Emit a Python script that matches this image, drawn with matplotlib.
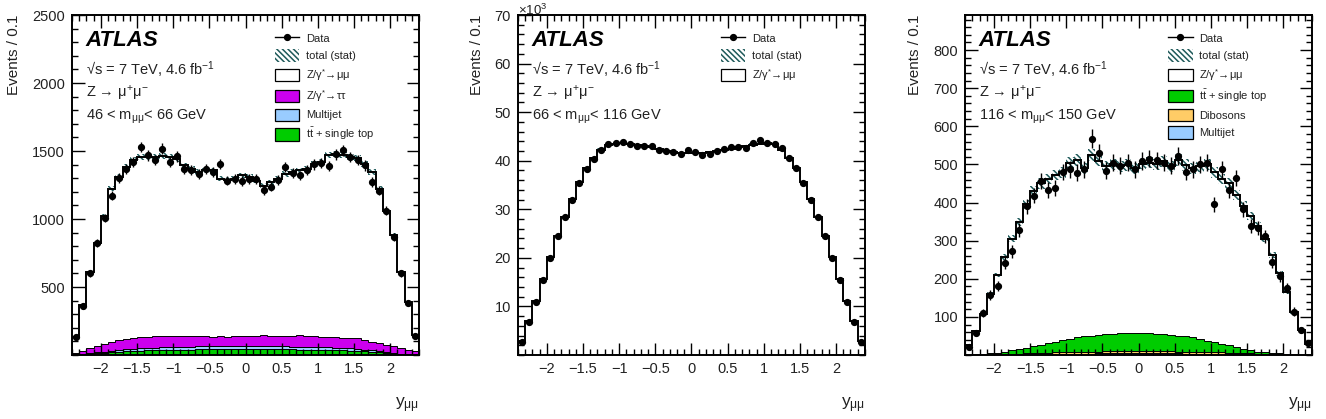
import numpy as np
import matplotlib
matplotlib.use('Agg')
import matplotlib.pyplot as plt
from matplotlib.patches import Patch
from matplotlib.lines import Line2D
from matplotlib.ticker import MultipleLocator, FixedLocator, FuncFormatter

plt.rcParams['font.family'] = ['Liberation Sans', 'DejaVu Sans']
plt.rcParams['mathtext.fontset'] = 'custom'
plt.rcParams['mathtext.rm'] = 'Liberation Sans'
plt.rcParams['mathtext.it'] = 'Liberation Sans:italic'
plt.rcParams['mathtext.bf'] = 'Liberation Sans:bold'
plt.rcParams['hatch.linewidth'] = 1.1

# binning in y_mumu
edges = np.linspace(-2.4, 2.4, 49)
centres = 0.5 * (edges[:-1] + edges[1:])

# --- 46 < m < 66 GeV ---
data_1 = [130, 360, 600, 823, 1007, 1172, 1300, 1370, 1420, 1530, 1468, 1436, 1517, 1419, 1460, 1370,
          1357, 1333, 1370, 1345, 1406, 1283, 1296, 1278, 1296, 1296, 1214, 1239, 1288, 1382, 1337, 1320,
          1362, 1401, 1411, 1387, 1475, 1505, 1456, 1436, 1394, 1271, 1209, 1061, 870, 600, 385, 140]
total_1 = [135, 368, 612, 823, 1020, 1222, 1308, 1382, 1431, 1456, 1456, 1456, 1462, 1456, 1443, 1394,
           1370, 1345, 1357, 1357, 1296, 1288, 1296, 1320, 1308, 1283, 1246, 1271, 1296, 1332, 1345, 1357,
           1370, 1406, 1419, 1468, 1475, 1468, 1456, 1451, 1406, 1345, 1222, 1061, 882, 612, 392, 147]
ttbar_1 = [3, 5, 8, 12, 16, 20, 24, 27, 30, 32, 34, 36, 37, 38, 39, 40, 40, 41, 41, 42, 42, 42, 42, 42,
           42, 42, 42, 42, 42, 41, 41, 40, 40, 39, 38, 37, 36, 34, 32, 30, 27, 24, 20, 16, 12, 8, 5, 3]
multijet_1 = [2, 3, 5, 7, 9, 11, 13, 15, 16, 17, 18, 19, 20, 20, 21, 21, 22, 22, 22, 23, 22, 22, 23, 22,
              22, 23, 22, 22, 22, 22, 21, 21, 21, 20, 20, 19, 18, 17, 16, 15, 13, 11, 9, 7, 5, 3, 2, 1]
ztautau_1 = [13, 20, 35, 47, 59, 67, 71, 74, 77, 80, 82, 82, 83, 83, 80, 81, 78, 76, 75, 71, 74, 68, 72, 76,
             77, 73, 82, 76, 77, 76, 78, 86, 79, 79, 76, 75, 76, 75, 76, 77, 72, 63, 57, 53, 47, 39, 31, 22]

# --- 66 < m < 116 GeV (in units of 10^3) ---
data_2 = [2.7, 6.9, 11.0, 15.5, 20.0, 24.5, 28.5, 32.0, 35.5, 38.2, 40.3, 42.2, 43.4, 43.6, 43.9, 43.4,
          43.1, 43.1, 43.0, 42.3, 41.9, 41.7, 41.4, 42.2, 41.7, 41.2, 41.4, 41.9, 42.5, 42.9, 42.9, 42.6,
          43.6, 44.3, 43.6, 43.4, 42.6, 40.5, 38.4, 35.5, 32.0, 28.5, 24.5, 20.0, 15.5, 11.0, 6.9, 2.7]
total_2 = [2.8, 7.0, 11.2, 15.6, 20.1, 24.4, 28.4, 32.1, 35.6, 38.4, 40.6, 42.3, 43.2, 43.5, 43.6, 43.4,
           43.2, 43.0, 42.8, 42.4, 42.1, 41.8, 41.6, 41.6, 41.6, 41.6, 41.7, 41.9, 42.2, 42.5, 42.8, 43.0,
           43.3, 43.5, 43.6, 43.4, 42.3, 40.6, 38.4, 35.6, 32.1, 28.4, 24.4, 20.1, 15.6, 11.2, 7.0, 2.8]

# --- 116 < m < 150 GeV ---
data_3 = [22, 57, 110, 158, 182, 241, 272, 329, 390, 418, 456, 432, 439, 480, 487, 478,
          487, 568, 531, 484, 504, 496, 504, 487, 509, 515, 511, 504, 496, 522, 480, 487,
          500, 504, 395, 487, 432, 465, 382, 339, 333, 311, 245, 206, 175, 114, 66, 31]
total_3 = [25, 62, 108, 160, 210, 258, 305, 350, 395, 430, 450, 462, 472, 480, 505, 512,
           490, 525, 510, 495, 500, 495, 498, 490, 502, 505, 500, 508, 495, 512, 498, 490,
           495, 500, 480, 462, 450, 420, 392, 365, 338, 305, 262, 215, 165, 112, 65, 28]
multijet_3 = [0, 0, 0, 0, 1, 1, 1, 1, 2, 2, 2, 2, 3, 3, 3, 3, 3, 3, 4, 4, 4, 4, 4, 4,
              4, 4, 4, 4, 4, 4, 3, 3, 3, 3, 3, 3, 2, 2, 2, 2, 1, 1, 1, 1, 0, 0, 0, 0]
diboson_3 = [1, 1, 1, 1, 1, 2, 2, 2, 3, 3, 3, 4, 4, 4, 5, 5, 5, 5, 5, 6, 6, 6, 6, 6,
             6, 6, 6, 6, 6, 5, 5, 5, 5, 5, 4, 4, 4, 3, 3, 3, 2, 2, 2, 1, 1, 1, 1, 1]
ttbar_3 = [0, 1, 2, 3, 4, 6, 9, 12, 14, 18, 22, 25, 28, 32, 35, 38, 41, 43, 44, 45, 46, 47, 48, 48,
           47, 48, 46, 45, 43, 42, 41, 38, 34, 30, 27, 23, 19, 15, 11, 7, 6, 4, 2, 2, 2, 1, 0, 0]

HATCH_COL = '#1f5a5a'
C_TT = '#00cc00'
C_MJ = '#99ccff'
C_TAU = '#cc00ee'
C_DB = '#ffcc66'

lab_data = 'Data'
lab_stat = 'total (stat)'
lab_zmm = 'Z/γ$^{*}$→μμ'
lab_ztt = 'Z/γ$^{*}$→ττ'
lab_mj = 'Multijet'
lab_tt = 't$\\bar{\\mathrm{t}}$ + single top'
lab_db = 'Dibosons'


def draw_panel(ax, data, total, bkgs, scale, stat_rel, mass_text, yticks, ylim):
    data = np.asarray(data, float)
    total = np.asarray(total, float)
    # stacked backgrounds
    base = np.zeros(len(total))
    for vals, col in bkgs:
        top = base + np.asarray(vals, float)
        ax.stairs(top, edges, baseline=base, fill=True, facecolor=col, edgecolor='k', lw=0.7)
        base = top
    # total MC with stat hatch
    err = total * stat_rel
    ax.stairs(total + err, edges, baseline=total - err, fill=True, facecolor='none',
              hatch='\\\\\\\\\\\\', edgecolor=HATCH_COL, lw=0)
    ax.stairs(total, edges, color='k', lw=1.4)
    # data
    yerr = np.sqrt(data * scale) / scale
    ax.errorbar(centres, data, yerr=yerr, fmt='o', color='k', ms=4.2, elinewidth=1.0, capsize=0)

    ax.set_xlim(-2.4, 2.4)
    ax.set_ylim(*ylim)
    ax.xaxis.set_major_locator(FixedLocator([-2, -1.5, -1, -0.5, 0, 0.5, 1, 1.5, 2]))
    ax.xaxis.set_minor_locator(MultipleLocator(0.1))
    ax.xaxis.set_major_formatter(FuncFormatter(lambda v, p: ('%g' % v).replace('-', '−')))
    ax.yaxis.set_major_locator(FixedLocator(yticks))
    ax.yaxis.set_minor_locator(MultipleLocator((yticks[1] - yticks[0]) / 5))
    ax.yaxis.set_major_formatter(FuncFormatter(lambda v, p: '%g' % v))
    ax.tick_params(which='both', direction='in', top=True, right=True, width=1.0,
                   labelsize=10.5, colors='k', labelcolor='#222222', pad=5)
    ax.tick_params(which='major', length=9)
    ax.tick_params(which='minor', length=4.5)
    for s in ax.spines.values():
        s.set_linewidth(1.4)

    ax.set_ylabel('Events / 0.1', loc='top', fontsize=11, color='#222222', labelpad=8)
    ax.set_xlabel('y$_{\\mathrm{μμ}}$', loc='right', fontsize=12.5, color='#222222', labelpad=14)

    ax.text(0.04, 0.926, 'ATLAS', transform=ax.transAxes, fontsize=16, fontweight='bold',
            fontstyle='italic', va='center', ha='left')
    ax.text(0.04, 0.838, '√s = 7 TeV, 4.6 fb$^{-1}$', transform=ax.transAxes, fontsize=10.5,
            va='center', ha='left', color='#222222')
    ax.text(0.04, 0.768, 'Z → μ$^{+}$μ$^{-}$', transform=ax.transAxes, fontsize=10.5,
            va='center', ha='left', color='#222222')
    ax.text(0.04, 0.70, mass_text, transform=ax.transAxes, fontsize=10.5,
            va='center', ha='left', color='#222222')


fig = plt.figure(figsize=(13.26, 4.19), dpi=100)
bottom, height, width = 0.1527, 0.8115, 0.2617
ax1 = fig.add_axes([0.0543, bottom, width, height])
ax2 = fig.add_axes([0.3906, bottom, width, height])
ax3 = fig.add_axes([0.7278, bottom, width, height])

draw_panel(ax1, data_1, total_1, [(ttbar_1, C_TT), (multijet_1, C_MJ), (ztautau_1, C_TAU)],
           1.0, 0.015, '46 < m$_{\\mathrm{μμ}}$< 66 GeV', [500, 1000, 1500, 2000, 2500], (0, 2500))
draw_panel(ax2, data_2, total_2, [], 1000.0, 0.006, '66 < m$_{\\mathrm{μμ}}$< 116 GeV',
           [10, 20, 30, 40, 50, 60, 70], (0, 70))
draw_panel(ax3, data_3, total_3, [(multijet_3, C_MJ), (diboson_3, C_DB), (ttbar_3, C_TT)],
           1.0, 0.03, '116 < m$_{\\mathrm{μμ}}$< 150 GeV', [100, 200, 300, 400, 500, 600, 700, 800],
           (0, 892))
ax2.text(0.0, 0.99, '×10$^{3}$', transform=ax2.transAxes, fontsize=9.5, va='bottom', ha='left',
         color='#222222')


def legend_handles(entries):
    h = []
    for kind, col in entries:
        if kind == 'data':
            h.append(Line2D([], [], color='k', marker='o', ms=4.2, lw=1.0))
        elif kind == 'stat':
            h.append(Patch(facecolor='none', hatch='\\\\\\\\\\\\', edgecolor=HATCH_COL, lw=0))
        else:
            h.append(Patch(facecolor=col, edgecolor='k', lw=0.9))
    return h


leg_1 = [('data', None), ('stat', None), ('fill', 'white'), ('fill', C_TAU), ('fill', C_MJ), ('fill', C_TT)]
leg_2 = [('data', None), ('stat', None), ('fill', 'white')]
leg_3 = [('data', None), ('stat', None), ('fill', 'white'), ('fill', C_TT), ('fill', C_DB), ('fill', C_MJ)]
labels_1 = [lab_data, lab_stat, lab_zmm, lab_ztt, lab_mj, lab_tt]
labels_2 = [lab_data, lab_stat, lab_zmm]
labels_3 = [lab_data, lab_stat, lab_zmm, lab_tt, lab_db, lab_mj]

for ax, ent, labs in [(ax1, leg_1, labels_1), (ax2, leg_2, labels_2), (ax3, leg_3, labels_3)]:
    leg = ax.legend(legend_handles(ent), labs, loc='upper left', bbox_to_anchor=(0.585, 0.95),
                    frameon=False, fontsize=8, handlelength=2.2, handleheight=1.35,
                    labelspacing=0.45, handletextpad=0.6, borderaxespad=0, borderpad=0)
    for t in leg.get_texts():
        t.set_color('#222222')

fig.savefig('out.png', dpi=100)
